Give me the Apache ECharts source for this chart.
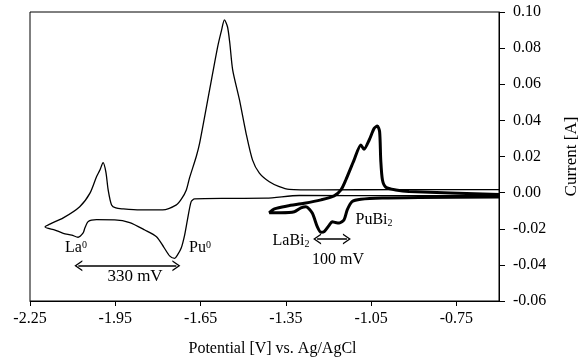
<!DOCTYPE html>
<html>
<head>
<meta charset="utf-8">
<script src="https://cdn.jsdelivr.net/npm/echarts@6/dist/echarts.min.js"></script>
<style>
html,body{margin:0;padding:0;background:#fff;}
#chart{width:578px;height:358px;}
</style>
</head>
<body>
<div id="chart"></div>
<script>
// Thin curve (inert electrode): cathodic scan right->left, then anodic left->right
var thinV = [-0.60,-0.952,-1.303,-1.419,-1.548,-1.671,-1.683,-1.696,-1.706,-1.718,-1.731,-1.741,-1.759,-1.780,-1.805,-1.846,-1.899,-1.952,-2.016,-2.045,-2.057,-2.063,-2.081,-2.103,-2.133,-2.162,-2.197,
  -2.180,-2.133,-2.075,-2.039,-2.016,-2.004,-1.993,-1.983,-1.975,-1.963,-1.948,-1.924,-1.864,-1.783,-1.735,-1.717,-1.700,-1.689,-1.665,-1.653,-1.618,-1.590,-1.576,-1.566,-1.555,-1.547,-1.537,-1.513,-1.490,-1.467,-1.443,-1.408,-1.373,-1.338,-1.232,-0.952,-0.60];
var thinI = [-0.0015,-0.0017,-0.0016,-0.0031,-0.0032,-0.0035,-0.0050,-0.0150,-0.0235,-0.0307,-0.0345,-0.0364,-0.0350,-0.0300,-0.0244,-0.0207,-0.0166,-0.0151,-0.0150,-0.0160,-0.0196,-0.0223,-0.0247,-0.0235,-0.0225,-0.0207,-0.0190,
  -0.0174,-0.0140,-0.0078,-0.0003,0.0088,0.0125,0.0166,0.0114,0.0015,-0.0068,-0.0085,-0.0090,-0.0096,-0.0096,-0.0068,-0.0035,0.0015,0.0080,0.0200,0.0275,0.0570,0.0806,0.0900,0.0956,0.0917,0.0827,0.0680,0.0513,0.0330,0.0180,0.0108,0.0060,0.0033,0.0018,0.0015,0.0017,0.0017];
// Thick curve (Bi electrode)
var thickV = [-0.60,-0.882,-1.011,-1.086,-1.117,-1.134,-1.145,-1.162,-1.176,-1.187,-1.197,-1.215,-1.226,-1.239,-1.257,-1.279,-1.297,-1.320,-1.367,-1.408,
  -1.390,-1.345,-1.285,-1.226,-1.180,-1.156,-1.139,-1.110,-1.086,-1.075,-1.057,-1.039,-1.028,-1.020,-1.016,-1.010,-0.998,-0.963,-0.917,-0.60];
var thickI = [-0.0024,-0.0027,-0.0030,-0.0037,-0.0050,-0.0096,-0.0150,-0.0168,-0.0165,-0.0161,-0.0180,-0.0216,-0.0220,-0.0190,-0.0113,-0.0078,-0.0085,-0.0106,-0.0111,-0.0111,
  -0.0090,-0.0074,-0.0059,-0.0040,-0.0018,0.0015,0.0070,0.0180,0.0264,0.0240,0.0290,0.0356,0.0369,0.0337,0.0180,0.0070,0.0030,0.0015,0.0006,-0.0011];
var xTickValues = [-2.25,-1.95,-1.65,-1.35,-1.05,-0.75];
var arrow330 = [[-2.08,-0.0405],[-1.735,-0.0405]];
var arrow100 = [[-1.24,-0.0257],[-1.135,-0.0257]];

function zip(a,b){return a.map(function(v,i){return [v,b[i]];});}
var FF = 'Liberation Serif, Times New Roman, serif';
var chev = 'path://M0,10 L5,0 L10,10 L8.6,10 L5,2.8 L1.4,10 Z';

var chart = echarts.init(document.getElementById('chart'));
chart.setOption({
  animation:false,
  grid:{left:30,right:79,top:12,bottom:57,containLabel:false,outerBoundsMode:'none',show:true,borderColor:'#000',borderWidth:1,backgroundColor:'transparent'},
  xAxis:{type:'value',min:-2.25,max:-0.6,
    name:'Potential [V] vs. Ag/AgCl',nameLocation:'middle',nameGap:40,
    nameTextStyle:{fontFamily:FF,fontSize:16,color:'#000',padding:[0,0,0,16]},
    axisLine:{show:true,onZero:false,lineStyle:{color:'#000',width:1}},
    axisTick:{show:true,inside:false,length:5,customValues:xTickValues,lineStyle:{color:'#000'}},
    axisLabel:{customValues:xTickValues,margin:10,fontFamily:FF,fontSize:16,color:'#000',formatter:function(v){return v.toFixed(2);}},
    splitLine:{show:false}},
  yAxis:{type:'value',position:'right',min:-0.06,max:0.10,interval:0.02,
    name:'Current [A]',nameLocation:'middle',nameRotate:90,nameGap:64,
    nameTextStyle:{fontFamily:FF,fontSize:17,color:'#000'},
    axisLine:{show:true,onZero:false,lineStyle:{color:'#000',width:1}},
    axisTick:{show:true,inside:false,length:6,lineStyle:{color:'#000'}},
    axisLabel:{margin:14,fontFamily:FF,fontSize:16,color:'#000',formatter:function(v){return v.toFixed(2);}},
    splitLine:{show:false}},
  series:[
    {type:'line',data:zip(thinV,thinI),showSymbol:false,smooth:0.25,lineStyle:{color:'#000',width:1.3},silent:true,
     markLine:{silent:true,symbol:[chev,chev],symbolSize:[11,8],label:{show:false},lineStyle:{color:'#000',width:1.5,type:'solid'},
       data:[[{coord:arrow330[0]},{coord:arrow330[1]}],[{coord:arrow100[0]},{coord:arrow100[1]}]]}},
    {type:'line',data:zip(thickV,thickI),showSymbol:false,smooth:0.25,lineStyle:{color:'#000',width:3},silent:true}
  ],
  graphic:[
    {type:'text',x:76,y:248,style:{text:'{m|La}{s|0}',align:'center',verticalAlign:'middle',rich:{m:{fontFamily:FF,fontSize:16,color:'#000'},s:{fontFamily:FF,fontSize:10,color:'#000',verticalAlign:'top'}}}},
    {type:'text',x:200,y:248,style:{text:'{m|Pu}{s|0}',align:'center',verticalAlign:'middle',rich:{m:{fontFamily:FF,fontSize:16,color:'#000'},s:{fontFamily:FF,fontSize:10,color:'#000',verticalAlign:'top'}}}},
    {type:'text',x:135,y:277,style:{text:'330 mV',align:'center',verticalAlign:'middle',fontFamily:FF,fontSize:17,fill:'#000'}},
    {type:'text',x:291,y:241,style:{text:'{m|LaBi}{s|2}',align:'center',verticalAlign:'middle',rich:{m:{fontFamily:FF,fontSize:16,color:'#000'},s:{fontFamily:FF,fontSize:10,color:'#000',verticalAlign:'bottom'}}}},
    {type:'text',x:374,y:220,style:{text:'{m|PuBi}{s|2}',align:'center',verticalAlign:'middle',rich:{m:{fontFamily:FF,fontSize:16,color:'#000'},s:{fontFamily:FF,fontSize:10,color:'#000',verticalAlign:'bottom'}}}},
    {type:'text',x:338,y:260,style:{text:'100 mV',align:'center',verticalAlign:'middle',fontFamily:FF,fontSize:16,fill:'#000'}}
  ]
});
</script>
</body>
</html>
